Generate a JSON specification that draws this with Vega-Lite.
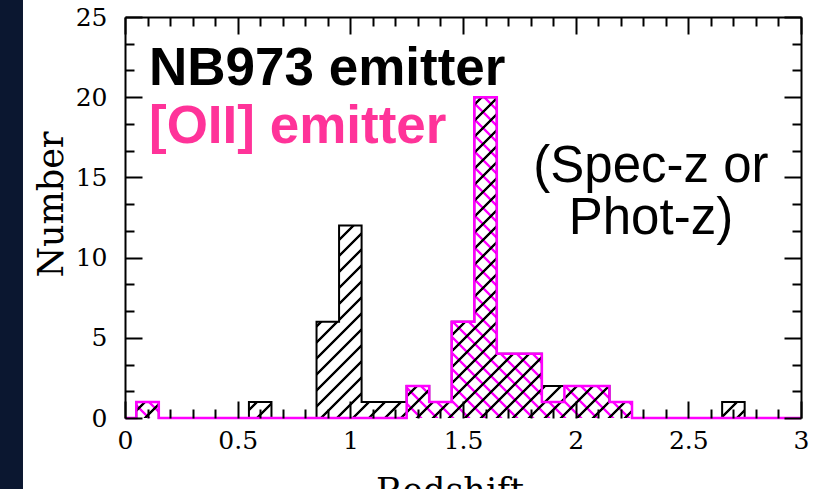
{
"$schema": "https://vega.github.io/schema/vega-lite/v6.json",
"width": 676,
"height": 401,
"autosize": {"type": "none"},
"padding": {"left": 125, "top": 17, "right": 21, "bottom": 71},
"background": "white",
"config": {
  "view": {"stroke": null},
  "axis": {"grid": false, "tickColor": "black", "tickWidth": 2, "domainColor": "black", "domainWidth": 2, "labelFont": "DejaVu Serif", "labelFontSize": 25, "labelColor": "black", "titleFont": "DejaVu Serif", "titleFontSize": 35, "titleFontWeight": "normal", "titleColor": "black", "labelFlush": false, "labelOverlap": false}
},
"data": {"values": [
{"z":0.0,"nb":0,"oii":0},{"z":0.1,"nb":1,"oii":1},{"z":0.2,"nb":0,"oii":0},{"z":0.3,"nb":0,"oii":0},{"z":0.4,"nb":0,"oii":0},{"z":0.5,"nb":0,"oii":0},{"z":0.6,"nb":1,"oii":0},{"z":0.7,"nb":0,"oii":0},{"z":0.8,"nb":0,"oii":0},{"z":0.9,"nb":6,"oii":0},{"z":1.0,"nb":12,"oii":0},{"z":1.1,"nb":1,"oii":0},{"z":1.2,"nb":1,"oii":0},{"z":1.3,"nb":2,"oii":2},{"z":1.4,"nb":1,"oii":1},{"z":1.5,"nb":6,"oii":6},{"z":1.6,"nb":20,"oii":20},{"z":1.7,"nb":4,"oii":4},{"z":1.8,"nb":4,"oii":4},{"z":1.9,"nb":2,"oii":1},{"z":2.0,"nb":2,"oii":2},{"z":2.1,"nb":2,"oii":2},{"z":2.2,"nb":1,"oii":1},{"z":2.3,"nb":0,"oii":0},{"z":2.4,"nb":0,"oii":0},{"z":2.5,"nb":0,"oii":0},{"z":2.6,"nb":0,"oii":0},{"z":2.7,"nb":1,"oii":0},{"z":2.8,"nb":0,"oii":0},{"z":2.9,"nb":0,"oii":0},{"z":3.0,"nb":0,"oii":0}
]},
"resolve": {"axis": {"x": "independent", "y": "independent"}},
"layer": [
{
  "data": {"values": [{}]},
  "mark": {"type": "rect", "fill": "#0b1730"},
  "encoding": {
    "x": {"datum": -0.6, "type": "quantitative", "scale": {"domain": [0, 3], "nice": false, "zero": false}, "axis": null},
    "x2": {"datum": -0.4527},
    "y": {"datum": -6, "type": "quantitative", "scale": {"domain": [0, 25], "nice": false}, "axis": null},
    "y2": {"datum": 28}
  }
},
{
  "data": {"values": [{}]},
  "mark": {"type": "rect", "fill": {"gradient": "linear", "x1": 0, "y1": 1, "x2": 1.20295, "y2": 0.42344, "stops": [
{"offset":0.0058,"color":"#f0f0"},{"offset":0.0068,"color":"#f0f"},{"offset":0.0092,"color":"#f0f"},{"offset":0.0102,"color":"#f0f0"},
{"offset":0.0218,"color":"#f0f0"},{"offset":0.0228,"color":"#f0f"},{"offset":0.0252,"color":"#f0f"},{"offset":0.0262,"color":"#f0f0"},
{"offset":0.0378,"color":"#f0f0"},{"offset":0.0388,"color":"#f0f"},{"offset":0.0412,"color":"#f0f"},{"offset":0.0422,"color":"#f0f0"},
{"offset":0.0538,"color":"#f0f0"},{"offset":0.0548,"color":"#f0f"},{"offset":0.0572,"color":"#f0f"},{"offset":0.0582,"color":"#f0f0"},
{"offset":0.0698,"color":"#f0f0"},{"offset":0.0708,"color":"#f0f"},{"offset":0.0732,"color":"#f0f"},{"offset":0.0742,"color":"#f0f0"},
{"offset":0.0858,"color":"#f0f0"},{"offset":0.0868,"color":"#f0f"},{"offset":0.0892,"color":"#f0f"},{"offset":0.0902,"color":"#f0f0"},
{"offset":0.1018,"color":"#f0f0"},{"offset":0.1028,"color":"#f0f"},{"offset":0.1052,"color":"#f0f"},{"offset":0.1062,"color":"#f0f0"},
{"offset":0.1178,"color":"#f0f0"},{"offset":0.1188,"color":"#f0f"},{"offset":0.1212,"color":"#f0f"},{"offset":0.1222,"color":"#f0f0"},
{"offset":0.1338,"color":"#f0f0"},{"offset":0.1348,"color":"#f0f"},{"offset":0.1372,"color":"#f0f"},{"offset":0.1382,"color":"#f0f0"},
{"offset":0.1498,"color":"#f0f0"},{"offset":0.1508,"color":"#f0f"},{"offset":0.1532,"color":"#f0f"},{"offset":0.1542,"color":"#f0f0"},
{"offset":0.1658,"color":"#f0f0"},{"offset":0.1668,"color":"#f0f"},{"offset":0.1692,"color":"#f0f"},{"offset":0.1702,"color":"#f0f0"},
{"offset":0.1818,"color":"#f0f0"},{"offset":0.1828,"color":"#f0f"},{"offset":0.1852,"color":"#f0f"},{"offset":0.1862,"color":"#f0f0"},
{"offset":0.1978,"color":"#f0f0"},{"offset":0.1988,"color":"#f0f"},{"offset":0.2012,"color":"#f0f"},{"offset":0.2022,"color":"#f0f0"},
{"offset":0.2138,"color":"#f0f0"},{"offset":0.2148,"color":"#f0f"},{"offset":0.2172,"color":"#f0f"},{"offset":0.2182,"color":"#f0f0"},
{"offset":0.2298,"color":"#f0f0"},{"offset":0.2308,"color":"#f0f"},{"offset":0.2332,"color":"#f0f"},{"offset":0.2342,"color":"#f0f0"},
{"offset":0.2458,"color":"#f0f0"},{"offset":0.2468,"color":"#f0f"},{"offset":0.2492,"color":"#f0f"},{"offset":0.2502,"color":"#f0f0"},
{"offset":0.2618,"color":"#f0f0"},{"offset":0.2628,"color":"#f0f"},{"offset":0.2652,"color":"#f0f"},{"offset":0.2662,"color":"#f0f0"},
{"offset":0.2778,"color":"#f0f0"},{"offset":0.2788,"color":"#f0f"},{"offset":0.2812,"color":"#f0f"},{"offset":0.2822,"color":"#f0f0"},
{"offset":0.2938,"color":"#f0f0"},{"offset":0.2948,"color":"#f0f"},{"offset":0.2972,"color":"#f0f"},{"offset":0.2982,"color":"#f0f0"},
{"offset":0.3098,"color":"#f0f0"},{"offset":0.3108,"color":"#f0f"},{"offset":0.3132,"color":"#f0f"},{"offset":0.3142,"color":"#f0f0"},
{"offset":0.3258,"color":"#f0f0"},{"offset":0.3268,"color":"#f0f"},{"offset":0.3292,"color":"#f0f"},{"offset":0.3302,"color":"#f0f0"},
{"offset":0.3418,"color":"#f0f0"},{"offset":0.3428,"color":"#f0f"},{"offset":0.3452,"color":"#f0f"},{"offset":0.3462,"color":"#f0f0"},
{"offset":0.3578,"color":"#f0f0"},{"offset":0.3588,"color":"#f0f"},{"offset":0.3612,"color":"#f0f"},{"offset":0.3622,"color":"#f0f0"},
{"offset":0.3738,"color":"#f0f0"},{"offset":0.3748,"color":"#f0f"},{"offset":0.3772,"color":"#f0f"},{"offset":0.3782,"color":"#f0f0"},
{"offset":0.3898,"color":"#f0f0"},{"offset":0.3908,"color":"#f0f"},{"offset":0.3932,"color":"#f0f"},{"offset":0.3942,"color":"#f0f0"},
{"offset":0.4058,"color":"#f0f0"},{"offset":0.4068,"color":"#f0f"},{"offset":0.4092,"color":"#f0f"},{"offset":0.4102,"color":"#f0f0"},
{"offset":0.4218,"color":"#f0f0"},{"offset":0.4228,"color":"#f0f"},{"offset":0.4252,"color":"#f0f"},{"offset":0.4262,"color":"#f0f0"},
{"offset":0.4378,"color":"#f0f0"},{"offset":0.4388,"color":"#f0f"},{"offset":0.4412,"color":"#f0f"},{"offset":0.4422,"color":"#f0f0"},
{"offset":0.4538,"color":"#f0f0"},{"offset":0.4548,"color":"#f0f"},{"offset":0.4572,"color":"#f0f"},{"offset":0.4582,"color":"#f0f0"},
{"offset":0.4698,"color":"#f0f0"},{"offset":0.4708,"color":"#f0f"},{"offset":0.4732,"color":"#f0f"},{"offset":0.4742,"color":"#f0f0"},
{"offset":0.4858,"color":"#f0f0"},{"offset":0.4868,"color":"#f0f"},{"offset":0.4892,"color":"#f0f"},{"offset":0.4902,"color":"#f0f0"},
{"offset":0.5018,"color":"#f0f0"},{"offset":0.5028,"color":"#f0f"},{"offset":0.5052,"color":"#f0f"},{"offset":0.5062,"color":"#f0f0"},
{"offset":0.5178,"color":"#f0f0"},{"offset":0.5188,"color":"#f0f"},{"offset":0.5212,"color":"#f0f"},{"offset":0.5222,"color":"#f0f0"},
{"offset":0.5338,"color":"#f0f0"},{"offset":0.5348,"color":"#f0f"},{"offset":0.5372,"color":"#f0f"},{"offset":0.5382,"color":"#f0f0"},
{"offset":0.5498,"color":"#f0f0"},{"offset":0.5508,"color":"#f0f"},{"offset":0.5532,"color":"#f0f"},{"offset":0.5542,"color":"#f0f0"},
{"offset":0.5658,"color":"#f0f0"},{"offset":0.5668,"color":"#f0f"},{"offset":0.5692,"color":"#f0f"},{"offset":0.5702,"color":"#f0f0"},
{"offset":0.5818,"color":"#f0f0"},{"offset":0.5828,"color":"#f0f"},{"offset":0.5852,"color":"#f0f"},{"offset":0.5862,"color":"#f0f0"},
{"offset":0.5978,"color":"#f0f0"},{"offset":0.5988,"color":"#f0f"},{"offset":0.6012,"color":"#f0f"},{"offset":0.6022,"color":"#f0f0"},
{"offset":0.6138,"color":"#f0f0"},{"offset":0.6148,"color":"#f0f"},{"offset":0.6172,"color":"#f0f"},{"offset":0.6182,"color":"#f0f0"},
{"offset":0.6298,"color":"#f0f0"},{"offset":0.6308,"color":"#f0f"},{"offset":0.6332,"color":"#f0f"},{"offset":0.6342,"color":"#f0f0"},
{"offset":0.6458,"color":"#f0f0"},{"offset":0.6468,"color":"#f0f"},{"offset":0.6492,"color":"#f0f"},{"offset":0.6502,"color":"#f0f0"},
{"offset":0.6618,"color":"#f0f0"},{"offset":0.6628,"color":"#f0f"},{"offset":0.6652,"color":"#f0f"},{"offset":0.6662,"color":"#f0f0"},
{"offset":0.6778,"color":"#f0f0"},{"offset":0.6788,"color":"#f0f"},{"offset":0.6812,"color":"#f0f"},{"offset":0.6822,"color":"#f0f0"},
{"offset":0.6938,"color":"#f0f0"},{"offset":0.6948,"color":"#f0f"},{"offset":0.6972,"color":"#f0f"},{"offset":0.6982,"color":"#f0f0"},
{"offset":0.7098,"color":"#f0f0"},{"offset":0.7108,"color":"#f0f"},{"offset":0.7132,"color":"#f0f"},{"offset":0.7142,"color":"#f0f0"},
{"offset":0.7258,"color":"#f0f0"},{"offset":0.7268,"color":"#f0f"},{"offset":0.7292,"color":"#f0f"},{"offset":0.7302,"color":"#f0f0"},
{"offset":0.7418,"color":"#f0f0"},{"offset":0.7428,"color":"#f0f"},{"offset":0.7452,"color":"#f0f"},{"offset":0.7462,"color":"#f0f0"},
{"offset":0.7578,"color":"#f0f0"},{"offset":0.7588,"color":"#f0f"},{"offset":0.7612,"color":"#f0f"},{"offset":0.7622,"color":"#f0f0"},
{"offset":0.7738,"color":"#f0f0"},{"offset":0.7748,"color":"#f0f"},{"offset":0.7772,"color":"#f0f"},{"offset":0.7782,"color":"#f0f0"},
{"offset":0.7898,"color":"#f0f0"},{"offset":0.7908,"color":"#f0f"},{"offset":0.7932,"color":"#f0f"},{"offset":0.7942,"color":"#f0f0"},
{"offset":0.8058,"color":"#f0f0"},{"offset":0.8068,"color":"#f0f"},{"offset":0.8092,"color":"#f0f"},{"offset":0.8102,"color":"#f0f0"},
{"offset":0.8218,"color":"#f0f0"},{"offset":0.8228,"color":"#f0f"},{"offset":0.8252,"color":"#f0f"},{"offset":0.8262,"color":"#f0f0"},
{"offset":0.8378,"color":"#f0f0"},{"offset":0.8388,"color":"#f0f"},{"offset":0.8412,"color":"#f0f"},{"offset":0.8422,"color":"#f0f0"},
{"offset":0.8538,"color":"#f0f0"},{"offset":0.8548,"color":"#f0f"},{"offset":0.8572,"color":"#f0f"},{"offset":0.8582,"color":"#f0f0"},
{"offset":0.8698,"color":"#f0f0"},{"offset":0.8708,"color":"#f0f"},{"offset":0.8732,"color":"#f0f"},{"offset":0.8742,"color":"#f0f0"},
{"offset":0.8858,"color":"#f0f0"},{"offset":0.8868,"color":"#f0f"},{"offset":0.8892,"color":"#f0f"},{"offset":0.8902,"color":"#f0f0"},
{"offset":0.9018,"color":"#f0f0"},{"offset":0.9028,"color":"#f0f"},{"offset":0.9052,"color":"#f0f"},{"offset":0.9062,"color":"#f0f0"},
{"offset":0.9178,"color":"#f0f0"},{"offset":0.9188,"color":"#f0f"},{"offset":0.9212,"color":"#f0f"},{"offset":0.9222,"color":"#f0f0"},
{"offset":0.9338,"color":"#f0f0"},{"offset":0.9348,"color":"#f0f"},{"offset":0.9372,"color":"#f0f"},{"offset":0.9382,"color":"#f0f0"},
{"offset":0.9498,"color":"#f0f0"},{"offset":0.9508,"color":"#f0f"},{"offset":0.9532,"color":"#f0f"},{"offset":0.9542,"color":"#f0f0"},
{"offset":0.9658,"color":"#f0f0"},{"offset":0.9668,"color":"#f0f"},{"offset":0.9692,"color":"#f0f"},{"offset":0.9702,"color":"#f0f0"},
{"offset":0.9818,"color":"#f0f0"},{"offset":0.9828,"color":"#f0f"},{"offset":0.9852,"color":"#f0f"},{"offset":0.9862,"color":"#f0f0"}
  ]}},
  "encoding": {
    "x": {"datum": 0, "type": "quantitative", "scale": {"domain": [0, 3], "nice": false, "zero": false}, "axis": null},
    "x2": {"datum": 3},
    "y": {"datum": 0, "type": "quantitative", "scale": {"domain": [0, 25], "nice": false}, "axis": null},
    "y2": {"datum": 20.2}
  }
},
{
  "mark": {"type": "area", "interpolate": "step", "fill": "white", "stroke": null},
  "encoding": {
    "x": {"field": "z", "type": "quantitative", "scale": {"domain": [0, 3], "nice": false, "zero": false},
      "axis": {"orient": "bottom", "zindex": 2, "values": [0, 0.5, 1, 1.5, 2, 2.5, 3], "format": "~g", "tickSize": -17, "domain": false, "labelPadding": 27, "title": "Redshift", "titleX": 324.5, "titleY": 84.5, "titleBaseline": "alphabetic", "titleAlign": "center", "titleAnchor": null}},
    "y": {"field": "oii", "type": "quantitative", "scale": {"domain": [0, 25], "nice": false},
      "axis": {"orient": "left", "zindex": 2, "values": [0, 5, 10, 15, 20, 25], "format": "~g", "tickSize": -17, "domain": true, "labelPadding": 35, "title": "Number", "titleX": -63, "titleY": 187, "titleBaseline": "alphabetic", "titleAlign": "center", "titleAngle": -90, "titleAnchor": null}},
    "y2": {"datum": 25}
  }
},
{
  "data": {"values": [{}]},
  "mark": {"type": "rect", "fill": {"gradient": "linear", "x1": 0, "y1": 0, "x2": 1.20295, "y2": 0.57656, "stops": [
{"offset":0.0058,"color":"#0000"},{"offset":0.0068,"color":"#000"},{"offset":0.0092,"color":"#000"},{"offset":0.0102,"color":"#0000"},
{"offset":0.0218,"color":"#0000"},{"offset":0.0228,"color":"#000"},{"offset":0.0252,"color":"#000"},{"offset":0.0262,"color":"#0000"},
{"offset":0.0378,"color":"#0000"},{"offset":0.0388,"color":"#000"},{"offset":0.0412,"color":"#000"},{"offset":0.0422,"color":"#0000"},
{"offset":0.0538,"color":"#0000"},{"offset":0.0548,"color":"#000"},{"offset":0.0572,"color":"#000"},{"offset":0.0582,"color":"#0000"},
{"offset":0.0698,"color":"#0000"},{"offset":0.0708,"color":"#000"},{"offset":0.0732,"color":"#000"},{"offset":0.0742,"color":"#0000"},
{"offset":0.0858,"color":"#0000"},{"offset":0.0868,"color":"#000"},{"offset":0.0892,"color":"#000"},{"offset":0.0902,"color":"#0000"},
{"offset":0.1018,"color":"#0000"},{"offset":0.1028,"color":"#000"},{"offset":0.1052,"color":"#000"},{"offset":0.1062,"color":"#0000"},
{"offset":0.1178,"color":"#0000"},{"offset":0.1188,"color":"#000"},{"offset":0.1212,"color":"#000"},{"offset":0.1222,"color":"#0000"},
{"offset":0.1338,"color":"#0000"},{"offset":0.1348,"color":"#000"},{"offset":0.1372,"color":"#000"},{"offset":0.1382,"color":"#0000"},
{"offset":0.1498,"color":"#0000"},{"offset":0.1508,"color":"#000"},{"offset":0.1532,"color":"#000"},{"offset":0.1542,"color":"#0000"},
{"offset":0.1658,"color":"#0000"},{"offset":0.1668,"color":"#000"},{"offset":0.1692,"color":"#000"},{"offset":0.1702,"color":"#0000"},
{"offset":0.1818,"color":"#0000"},{"offset":0.1828,"color":"#000"},{"offset":0.1852,"color":"#000"},{"offset":0.1862,"color":"#0000"},
{"offset":0.1978,"color":"#0000"},{"offset":0.1988,"color":"#000"},{"offset":0.2012,"color":"#000"},{"offset":0.2022,"color":"#0000"},
{"offset":0.2138,"color":"#0000"},{"offset":0.2148,"color":"#000"},{"offset":0.2172,"color":"#000"},{"offset":0.2182,"color":"#0000"},
{"offset":0.2298,"color":"#0000"},{"offset":0.2308,"color":"#000"},{"offset":0.2332,"color":"#000"},{"offset":0.2342,"color":"#0000"},
{"offset":0.2458,"color":"#0000"},{"offset":0.2468,"color":"#000"},{"offset":0.2492,"color":"#000"},{"offset":0.2502,"color":"#0000"},
{"offset":0.2618,"color":"#0000"},{"offset":0.2628,"color":"#000"},{"offset":0.2652,"color":"#000"},{"offset":0.2662,"color":"#0000"},
{"offset":0.2778,"color":"#0000"},{"offset":0.2788,"color":"#000"},{"offset":0.2812,"color":"#000"},{"offset":0.2822,"color":"#0000"},
{"offset":0.2938,"color":"#0000"},{"offset":0.2948,"color":"#000"},{"offset":0.2972,"color":"#000"},{"offset":0.2982,"color":"#0000"},
{"offset":0.3098,"color":"#0000"},{"offset":0.3108,"color":"#000"},{"offset":0.3132,"color":"#000"},{"offset":0.3142,"color":"#0000"},
{"offset":0.3258,"color":"#0000"},{"offset":0.3268,"color":"#000"},{"offset":0.3292,"color":"#000"},{"offset":0.3302,"color":"#0000"},
{"offset":0.3418,"color":"#0000"},{"offset":0.3428,"color":"#000"},{"offset":0.3452,"color":"#000"},{"offset":0.3462,"color":"#0000"},
{"offset":0.3578,"color":"#0000"},{"offset":0.3588,"color":"#000"},{"offset":0.3612,"color":"#000"},{"offset":0.3622,"color":"#0000"},
{"offset":0.3738,"color":"#0000"},{"offset":0.3748,"color":"#000"},{"offset":0.3772,"color":"#000"},{"offset":0.3782,"color":"#0000"},
{"offset":0.3898,"color":"#0000"},{"offset":0.3908,"color":"#000"},{"offset":0.3932,"color":"#000"},{"offset":0.3942,"color":"#0000"},
{"offset":0.4058,"color":"#0000"},{"offset":0.4068,"color":"#000"},{"offset":0.4092,"color":"#000"},{"offset":0.4102,"color":"#0000"},
{"offset":0.4218,"color":"#0000"},{"offset":0.4228,"color":"#000"},{"offset":0.4252,"color":"#000"},{"offset":0.4262,"color":"#0000"},
{"offset":0.4378,"color":"#0000"},{"offset":0.4388,"color":"#000"},{"offset":0.4412,"color":"#000"},{"offset":0.4422,"color":"#0000"},
{"offset":0.4538,"color":"#0000"},{"offset":0.4548,"color":"#000"},{"offset":0.4572,"color":"#000"},{"offset":0.4582,"color":"#0000"},
{"offset":0.4698,"color":"#0000"},{"offset":0.4708,"color":"#000"},{"offset":0.4732,"color":"#000"},{"offset":0.4742,"color":"#0000"},
{"offset":0.4858,"color":"#0000"},{"offset":0.4868,"color":"#000"},{"offset":0.4892,"color":"#000"},{"offset":0.4902,"color":"#0000"},
{"offset":0.5018,"color":"#0000"},{"offset":0.5028,"color":"#000"},{"offset":0.5052,"color":"#000"},{"offset":0.5062,"color":"#0000"},
{"offset":0.5178,"color":"#0000"},{"offset":0.5188,"color":"#000"},{"offset":0.5212,"color":"#000"},{"offset":0.5222,"color":"#0000"},
{"offset":0.5338,"color":"#0000"},{"offset":0.5348,"color":"#000"},{"offset":0.5372,"color":"#000"},{"offset":0.5382,"color":"#0000"},
{"offset":0.5498,"color":"#0000"},{"offset":0.5508,"color":"#000"},{"offset":0.5532,"color":"#000"},{"offset":0.5542,"color":"#0000"},
{"offset":0.5658,"color":"#0000"},{"offset":0.5668,"color":"#000"},{"offset":0.5692,"color":"#000"},{"offset":0.5702,"color":"#0000"},
{"offset":0.5818,"color":"#0000"},{"offset":0.5828,"color":"#000"},{"offset":0.5852,"color":"#000"},{"offset":0.5862,"color":"#0000"},
{"offset":0.5978,"color":"#0000"},{"offset":0.5988,"color":"#000"},{"offset":0.6012,"color":"#000"},{"offset":0.6022,"color":"#0000"},
{"offset":0.6138,"color":"#0000"},{"offset":0.6148,"color":"#000"},{"offset":0.6172,"color":"#000"},{"offset":0.6182,"color":"#0000"},
{"offset":0.6298,"color":"#0000"},{"offset":0.6308,"color":"#000"},{"offset":0.6332,"color":"#000"},{"offset":0.6342,"color":"#0000"},
{"offset":0.6458,"color":"#0000"},{"offset":0.6468,"color":"#000"},{"offset":0.6492,"color":"#000"},{"offset":0.6502,"color":"#0000"},
{"offset":0.6618,"color":"#0000"},{"offset":0.6628,"color":"#000"},{"offset":0.6652,"color":"#000"},{"offset":0.6662,"color":"#0000"},
{"offset":0.6778,"color":"#0000"},{"offset":0.6788,"color":"#000"},{"offset":0.6812,"color":"#000"},{"offset":0.6822,"color":"#0000"},
{"offset":0.6938,"color":"#0000"},{"offset":0.6948,"color":"#000"},{"offset":0.6972,"color":"#000"},{"offset":0.6982,"color":"#0000"},
{"offset":0.7098,"color":"#0000"},{"offset":0.7108,"color":"#000"},{"offset":0.7132,"color":"#000"},{"offset":0.7142,"color":"#0000"},
{"offset":0.7258,"color":"#0000"},{"offset":0.7268,"color":"#000"},{"offset":0.7292,"color":"#000"},{"offset":0.7302,"color":"#0000"},
{"offset":0.7418,"color":"#0000"},{"offset":0.7428,"color":"#000"},{"offset":0.7452,"color":"#000"},{"offset":0.7462,"color":"#0000"},
{"offset":0.7578,"color":"#0000"},{"offset":0.7588,"color":"#000"},{"offset":0.7612,"color":"#000"},{"offset":0.7622,"color":"#0000"},
{"offset":0.7738,"color":"#0000"},{"offset":0.7748,"color":"#000"},{"offset":0.7772,"color":"#000"},{"offset":0.7782,"color":"#0000"},
{"offset":0.7898,"color":"#0000"},{"offset":0.7908,"color":"#000"},{"offset":0.7932,"color":"#000"},{"offset":0.7942,"color":"#0000"},
{"offset":0.8058,"color":"#0000"},{"offset":0.8068,"color":"#000"},{"offset":0.8092,"color":"#000"},{"offset":0.8102,"color":"#0000"},
{"offset":0.8218,"color":"#0000"},{"offset":0.8228,"color":"#000"},{"offset":0.8252,"color":"#000"},{"offset":0.8262,"color":"#0000"},
{"offset":0.8378,"color":"#0000"},{"offset":0.8388,"color":"#000"},{"offset":0.8412,"color":"#000"},{"offset":0.8422,"color":"#0000"},
{"offset":0.8538,"color":"#0000"},{"offset":0.8548,"color":"#000"},{"offset":0.8572,"color":"#000"},{"offset":0.8582,"color":"#0000"},
{"offset":0.8698,"color":"#0000"},{"offset":0.8708,"color":"#000"},{"offset":0.8732,"color":"#000"},{"offset":0.8742,"color":"#0000"},
{"offset":0.8858,"color":"#0000"},{"offset":0.8868,"color":"#000"},{"offset":0.8892,"color":"#000"},{"offset":0.8902,"color":"#0000"},
{"offset":0.9018,"color":"#0000"},{"offset":0.9028,"color":"#000"},{"offset":0.9052,"color":"#000"},{"offset":0.9062,"color":"#0000"},
{"offset":0.9178,"color":"#0000"},{"offset":0.9188,"color":"#000"},{"offset":0.9212,"color":"#000"},{"offset":0.9222,"color":"#0000"},
{"offset":0.9338,"color":"#0000"},{"offset":0.9348,"color":"#000"},{"offset":0.9372,"color":"#000"},{"offset":0.9382,"color":"#0000"},
{"offset":0.9498,"color":"#0000"},{"offset":0.9508,"color":"#000"},{"offset":0.9532,"color":"#000"},{"offset":0.9542,"color":"#0000"},
{"offset":0.9658,"color":"#0000"},{"offset":0.9668,"color":"#000"},{"offset":0.9692,"color":"#000"},{"offset":0.9702,"color":"#0000"},
{"offset":0.9818,"color":"#0000"},{"offset":0.9828,"color":"#000"},{"offset":0.9852,"color":"#000"},{"offset":0.9862,"color":"#0000"}
  ]}},
  "encoding": {
    "x": {"datum": 0, "type": "quantitative", "scale": {"domain": [0, 3], "nice": false, "zero": false}, "axis": null},
    "x2": {"datum": 3},
    "y": {"datum": 0, "type": "quantitative", "scale": {"domain": [0, 25], "nice": false}, "axis": null},
    "y2": {"datum": 20.2}
  }
},
{
  "mark": {"type": "area", "interpolate": "step", "fill": "white", "stroke": null},
  "encoding": {
    "x": {"field": "z", "type": "quantitative", "scale": {"domain": [0, 3], "nice": false, "zero": false},
      "axis": {"orient": "bottom", "zindex": 2, "values": [0.1,0.2,0.3,0.4,0.6,0.7,0.8,0.9,1.1,1.2,1.3,1.4,1.6,1.7,1.8,1.9,2.1,2.2,2.3,2.4,2.6,2.7,2.8,2.9], "tickSize": -9, "domain": false, "labels": false, "title": null}},
    "y": {"field": "nb", "type": "quantitative", "scale": {"domain": [0, 25], "nice": false},
      "axis": {"orient": "left", "zindex": 2, "values": [1.6667,3.3333,6.6667,8.3333,11.6667,13.3333,16.6667,18.3333,21.6667,23.3333], "tickSize": -9, "domain": false, "labels": false, "title": null}},
    "y2": {"datum": 25}
  }
},
{
  "mark": {"type": "line", "interpolate": "step", "color": "black", "strokeWidth": 2},
  "encoding": {
    "x": {"field": "z", "type": "quantitative", "scale": {"domain": [0, 3], "nice": false, "zero": false},
      "axis": {"orient": "top", "zindex": 2, "values": [0, 0.5, 1, 1.5, 2, 2.5, 3], "tickSize": -17, "domain": true, "labels": false, "title": null}},
    "y": {"field": "nb", "type": "quantitative", "scale": {"domain": [0, 25], "nice": false},
      "axis": {"orient": "right", "zindex": 2, "values": [0, 5, 10, 15, 20, 25], "tickSize": -17, "domain": true, "labels": false, "title": null}}
  }
},
{
  "mark": {"type": "line", "interpolate": "step", "color": "#ff00ff", "strokeWidth": 2.5},
  "encoding": {
    "x": {"field": "z", "type": "quantitative", "scale": {"domain": [0, 3], "nice": false, "zero": false},
      "axis": {"orient": "top", "zindex": 2, "values": [0.1,0.2,0.3,0.4,0.6,0.7,0.8,0.9,1.1,1.2,1.3,1.4,1.6,1.7,1.8,1.9,2.1,2.2,2.3,2.4,2.6,2.7,2.8,2.9], "tickSize": -9, "domain": false, "labels": false, "title": null}},
    "y": {"field": "oii", "type": "quantitative", "scale": {"domain": [0, 25], "nice": false},
      "axis": {"orient": "right", "zindex": 2, "values": [1.6667,3.3333,6.6667,8.3333,11.6667,13.3333,16.6667,18.3333,21.6667,23.3333], "tickSize": -9, "domain": false, "labels": false, "title": null}}
  }
},
{
  "data": {"values": [{}]},
  "mark": {"type": "text", "text": "NB973 emitter", "font": "Liberation Sans", "fontWeight": "bold", "fontSize": 53, "color": "black", "align": "left", "baseline": "alphabetic"},
  "encoding": {
    "x": {"datum": 0.1065, "type": "quantitative", "scale": {"domain": [0, 3], "nice": false, "zero": false}, "axis": null},
    "y": {"datum": 20.76, "type": "quantitative", "scale": {"domain": [0, 25], "nice": false}, "axis": null}
  }
},
{
  "data": {"values": [{}]},
  "mark": {"type": "text", "text": "[OII] emitter", "font": "Liberation Sans", "fontWeight": "bold", "fontSize": 53, "color": "#ff3399", "align": "left", "baseline": "alphabetic"},
  "encoding": {
    "x": {"datum": 0.1065, "type": "quantitative", "scale": {"domain": [0, 3], "nice": false, "zero": false}, "axis": null},
    "y": {"datum": 17.14, "type": "quantitative", "scale": {"domain": [0, 25], "nice": false}, "axis": null}
  }
},
{
  "data": {"values": [{}]},
  "mark": {"type": "text", "text": ["(Spec-z or", "Phot-z)"], "lineHeight": 52, "font": "Liberation Sans", "fontSize": 51, "color": "black", "align": "center", "baseline": "alphabetic"},
  "encoding": {
    "x": {"datum": 2.334, "type": "quantitative", "scale": {"domain": [0, 3], "nice": false, "zero": false}, "axis": null},
    "y": {"datum": 14.71, "type": "quantitative", "scale": {"domain": [0, 25], "nice": false}, "axis": null}
  }
}
]
}
